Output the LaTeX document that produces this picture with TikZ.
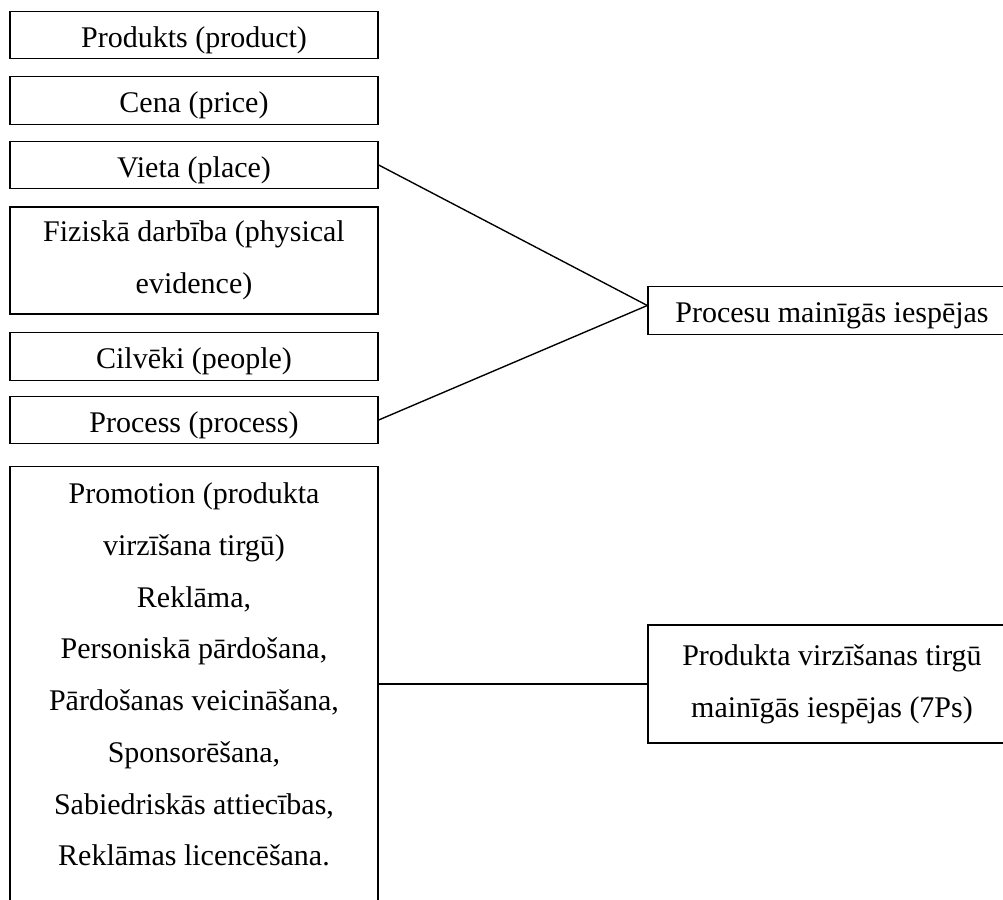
\documentclass[tikz,border=0pt]{standalone}
\usepackage{fontspec}
\setmainfont{Liberation Serif}
\usepackage{tikz}
\usetikzlibrary{calc,positioning}
\tikzset{mixbox/.style={draw, line width=0.55pt, minimum width=147.2pt, inner xsep=0pt, inner ysep=0pt, align=center, font=\fontsize{12pt}{20.7pt}\selectfont}}
\tikzset{oneline/.style={mixbox, text height=14.4pt, text depth=4.6pt}}
\tikzset{link/.style={line width=0.55pt}}
\begin{document}
\begin{tikzpicture}[x=0.4pt, y=-0.4pt]
\clip (0,0) rectangle (1003,900);
\useasboundingbox (0,0) rectangle (1003,900);
\node[oneline] (prod) at (194,35) {Produkts (product)};
\node[oneline] (cena) at (194,100.5) {Cena (price)};
\node[oneline] (vieta) at (194,165) {Vieta (place)};
\node[mixbox, minimum height=42.8pt] (fiz) at (194,260.5) {Fiziskā darbība (physical\\evidence)};
\node[oneline] (cilv) at (194,356.5) {Cilvēki (people)};
\node[oneline] (proc) at (194,420) {Process (process)};
\node[mixbox, anchor=north, inner ysep=6.4pt, text depth=200pt] (promo) at (194,466)
  {Promotion (produkta\\virzīšana tirgū)\\Reklāma,\\Personiskā pārdošana,\\Pārdošanas veicināšana,\\Sponsorēšana,\\Sabiedriskās attiecības,\\Reklāmas licencēšana.};
\node[oneline] (pr) at (832,310.5) {Procesu mainīgās iespējas};
\node[mixbox, minimum height=47.2pt] (pv) at (832,684) {Produkta virzīšanas tirgū\\mainīgās iespējas (7Ps)};
% connectors
\draw[link] (vieta.east) -- ([yshift=2pt]pr.west);
\draw[link] (proc.east) -- ([yshift=2pt]pr.west);
\draw[link] (pv.west -| promo.east) -- (pv.west);
\end{tikzpicture}
\end{document}
